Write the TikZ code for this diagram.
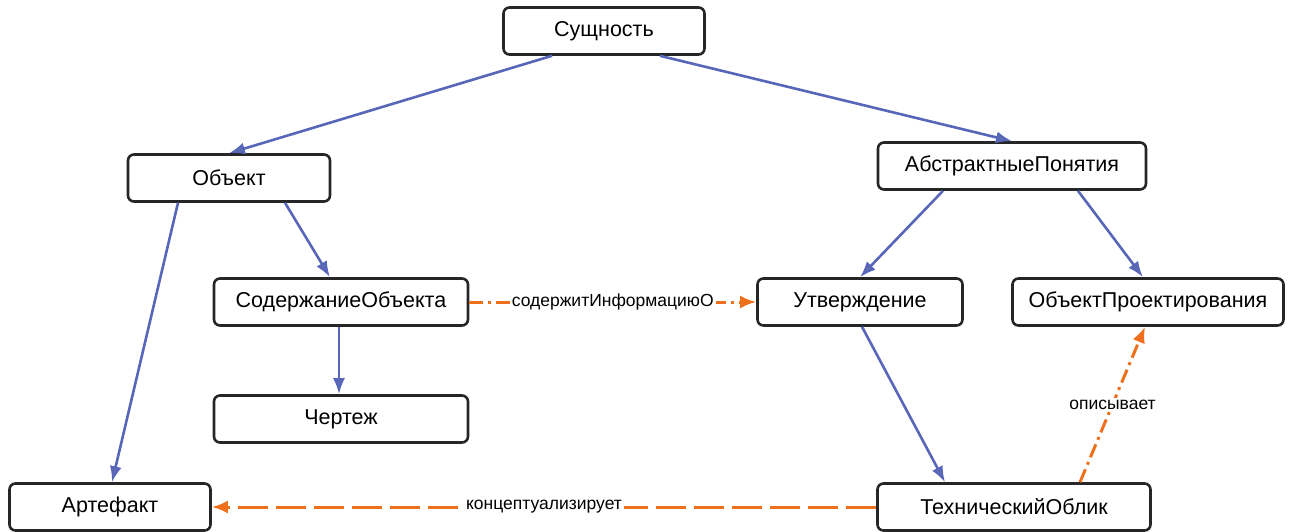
\documentclass[tikz,border=0pt]{standalone}
\usepackage{fontspec}
\setmainfont{Liberation Sans}
\usetikzlibrary{positioning,calc,arrows.meta}

\definecolor{isablue}{RGB}{88,102,186}
\definecolor{relorange}{RGB}{238,112,28}

\begin{document}
\begin{tikzpicture}[x=1pt,y=-1pt,
  concept/.style={draw=black!85, line width=2.6pt, rounded corners=6pt,
                  fill=white, minimum height=47pt, inner sep=0pt,
                  font=\fontsize{21.5}{25}\selectfont},
  isa/.style={draw=isablue, line width=2.6pt,
              -{Latex[length=16pt,width=12pt,fill=isablue!70!gray]}},
  rel/.style={draw=relorange, line width=3pt,
              -{Latex[length=16pt,width=13pt,fill=relorange]}},
  reldot/.style={rel, dash pattern=on 14pt off 5pt on 3pt off 5pt},
  rellong/.style={rel, dash pattern=on 30pt off 8pt},
  lbl/.style={fill=white, inner sep=2pt, font=\fontsize{17.5}{20}\selectfont}
]
\useasboundingbox (0,0) rectangle (1293,532);

% Concepts
\node[concept, minimum width=201pt] (ent)     at (604,31)  {Сущность};
\node[concept, minimum width=202pt] (obj)     at (229,178) {Объект};
\node[concept, minimum width=268pt] (abs)     at (1012,166) {АбстрактныеПонятия};
\node[concept, minimum width=254pt] (content) at (341,302) {СодержаниеОбъекта};
\node[concept, minimum width=205pt] (stmt)    at (860,302) {Утверждение};
\node[concept, minimum width=271pt] (design)  at (1148,302) {ОбъектПроектирования};
\node[concept, minimum width=254pt] (drawing) at (341,419) {Чертеж};
\node[concept, minimum width=201pt] (artefact) at (110,507) {Артефакт};
\node[concept, minimum width=273pt] (tech)    at (1014,507) {ТехническийОблик};

% Subclass links
\draw[isa] ($(ent.south)+(-52,0)$) -- (obj.north);
\draw[isa] ($(ent.south)+(56,0)$) -- (abs.north);
\draw[isa] ($(obj.south)+(56,0)$) -- ($(content.north)+(-11,0)$);
\draw[isa] ($(obj.south)+(-51,0)$) -- ($(artefact.north)+(2,0)$);
\draw[isa] ($(content.south)+(-2,0)$) -- ($(drawing.north)+(-2,0)$);
\draw[isa] ($(abs.south)+(-69,0)$) -- (stmt.north);
\draw[isa] ($(abs.south)+(66,0)$) -- ($(design.north)+(-5,0)$);
\draw[isa] ($(stmt.south)+(2,0)$) -- ($(tech.north)+(-69,0)$);

% Relations
\draw[reldot] (content.east) -- node[lbl] {содержитИнформациюО} (stmt.west);
\draw[reldot] ($(tech.north)+(66,0)$) -- node[lbl] {описывает} ($(design.south)+(-3,0)$);
\draw[rellong] (tech.west) -- node[lbl] {концептуализирует} (artefact.east);

\end{tikzpicture}
\end{document}
